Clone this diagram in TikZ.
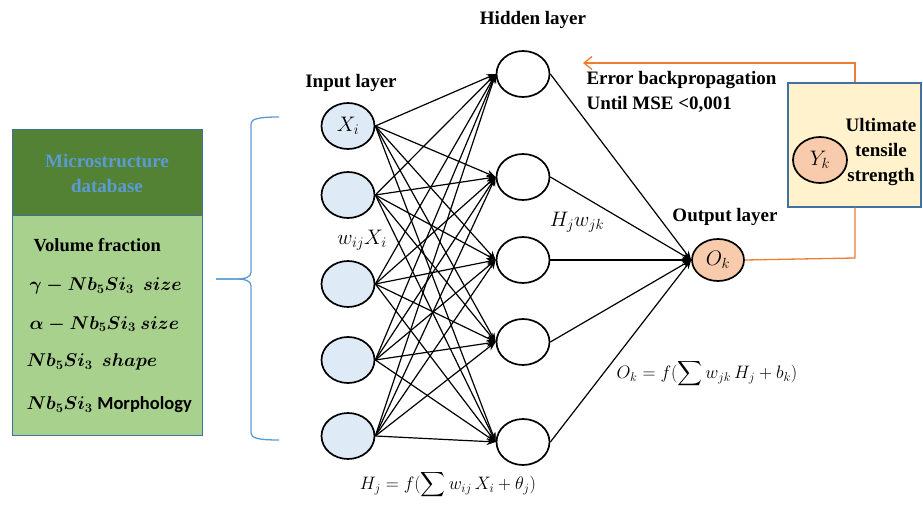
\RequirePackage{fix-cm}
\documentclass[tikz,border=0pt]{standalone}
\usepackage{amsmath}
\usepackage{fontspec}
\setmainfont{Liberation Serif}
\newfontfamily\calib{Carlito}
\usetikzlibrary{arrows.meta,shapes.geometric}
\definecolor{inblue}{HTML}{DEEBF7}
\definecolor{peach}{HTML}{F8CBAD}
\definecolor{ybox}{HTML}{FFF2CC}
\definecolor{borderblue}{HTML}{41719C}
\definecolor{orangeline}{HTML}{ED7D31}
\definecolor{darkgreen}{HTML}{548235}
\definecolor{lightgreen}{HTML}{A9D18E}
\definecolor{titleblue}{HTML}{5B9BD5}
\tikzset{
  neuron/.style={ellipse, draw=black, line width=1.7pt, minimum width=53pt, minimum height=46pt, inner sep=0pt, font=\fontsize{21}{24}\selectfont},
  inp/.style={neuron, fill=inblue},
  hid/.style={neuron, fill=white},
  outn/.style={neuron, fill=peach, minimum width=52pt, minimum height=42pt},
  conn/.style={line width=1.2pt, -{Stealth[length=9pt,width=7pt]}},
  lbl/.style={font=\fontsize{19}{25}\selectfont\bfseries},
  mlbl/.style={font=\fontsize{21}{24}\selectfont},
  eqn/.style={font=\fontsize{18}{22}\selectfont},
  feedback/.style={draw=orangeline, line width=1.3pt},
  boxtxt/.style={anchor=west, font=\fontsize{18.5}{22}\selectfont\bfseries},
}
\begin{document}
\begin{tikzpicture}[x=1pt,y=-1pt]
\useasboundingbox (0,0) rectangle (923,505);

% left database box
\path[fill=darkgreen, draw=borderblue, line width=1pt] (12,130) rectangle (202,215);
\path[fill=lightgreen, draw=borderblue, line width=1pt] (12,215) rectangle (202,435);
\node[lbl, text=titleblue, align=center] (dbt) at (107,174) {Microstructure\\database};
\node[boxtxt] (t1) at (30,245) {Volume fraction};
\node[boxtxt] (t2) at (26,286) {$\boldsymbol{\gamma - Nb_5Si_3}\ \ \boldsymbol{size}$};
\node[boxtxt] (t3) at (26,324) {$\boldsymbol{\alpha - Nb_5Si_3}\ \boldsymbol{size}$};
\node[boxtxt] (t4) at (23,362) {$\boldsymbol{Nb_5Si_3}\ \ \boldsymbol{shape}$};
\node[boxtxt] (t5) at (23,405) {$\boldsymbol{Nb_5Si_3}$ {\calib Morphology}};

% brace
\draw[titleblue, line width=1.3pt]
  (279,117) .. controls (258,117) and (251,119) .. (251,124) -- (251,272)
  .. controls (251,277) and (246,279) .. (236,279) -- (216,279);
\draw[titleblue, line width=1.3pt]
  (216,279) -- (236,279) .. controls (246,279) and (251,281) .. (251,286)
  -- (251,433) .. controls (251,438) and (258,440) .. (279,440);

% input layer
\node[inp] (i1) at (348,126) {$X_i$};
\node[inp] (i2) at (348,195) {};
\node[inp] (i3) at (348,284) {};
\node[inp] (i4) at (348,360) {};
\node[inp] (i5) at (348,436) {};

% hidden layer
\node[hid] (h1) at (523,74) {};
\node[hid] (h2) at (523,177) {};
\node[hid] (h3) at (523,260) {};
\node[hid] (h4) at (523,342) {};
\node[hid] (h5) at (523,442) {};

% output
\node[outn] (o) at (718,260) {$O_k$};

% connections
\foreach \i in {1,...,5}{
  \foreach \j in {1,...,5}{
    \draw[conn] (i\i.east) -- (h\j.west);
  }
}
\foreach \j in {1,...,5}{
  \draw[conn] (h\j.east) -- (o.west);
}

% target box
\node[draw=borderblue, fill=ybox, line width=1.2pt, minimum width=133pt, minimum height=124pt, inner sep=0pt] (yb) at (854.5,145) {};
\node[neuron, fill=peach, minimum width=54pt, minimum height=46pt] (yk) at (820,160) {$Y_k$};
\node[lbl, align=center] (uts) at (881,152) {Ultimate\\tensile\\strength};

% feedback loop
\coordinate (c1) at (855,258);
\coordinate (c2) at (855,63);
\coordinate (c3) at (583,63);
\draw[feedback] (o.east) -- (c1) -- (c1 |- yb.south);
\draw[feedback, -{Straight Barb[length=8pt,width=13pt]}] (c2 |- yb.north) -- (c2) -- (c3);

% labels
\node[lbl] (lin) at (351,83) {Input layer};
\node[lbl] (lhid) at (533,20) {Hidden layer};
\node[lbl] (lout) at (725,217) {Output layer};
\node[lbl, align=left, anchor=west] (lerr) at (583,92) {Error backpropagation\\Until MSE <0,001};
\node[mlbl] (lw1) at (362,240) {$w_{ij}X_i$};
\node[mlbl] (lw2) at (577,222) {$H_j w_{jk}$};
\node[eqn] (eqh) at (448,485) {$H_j = f(\displaystyle\sum w_{ij}\,X_i + \theta_j)$};
\node[eqn] (eqo) at (707,374) {$O_k = f(\displaystyle\sum w_{jk}\,H_j + b_k)$};
\end{tikzpicture}
\end{document}
